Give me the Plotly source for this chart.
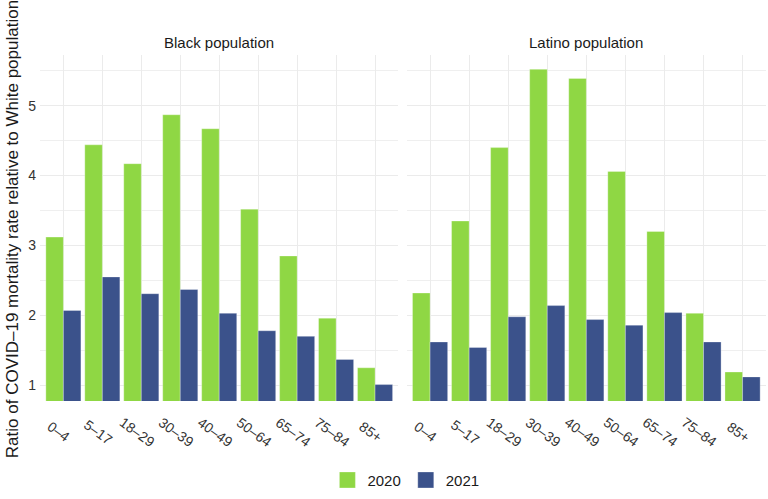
import plotly.graph_objects as go

age_groups = ["0–4", "5–17", "18–29", "30–39", "40–49", "50–64", "65–74", "75–84", "85+"]
black_2020 = [3.12, 4.44, 4.17, 4.87, 4.67, 3.52, 2.85, 1.96, 1.25]
black_2021 = [2.07, 2.55, 2.31, 2.37, 2.03, 1.78, 1.70, 1.37, 1.01]
latino_2020 = [2.32, 3.35, 4.40, 5.52, 5.39, 4.06, 3.20, 2.03, 1.19]
latino_2021 = [1.62, 1.54, 1.98, 2.14, 1.94, 1.86, 2.04, 1.62, 1.12]
panel_titles = ["Black population", "Latino population"]
years = ["2020", "2021"]
y_ticks = [1, 2, 3, 4, 5]

colors = {"2020": "#8fd744", "2021": "#3b528b"}
FONT = "Liberation Sans, Arial, Helvetica, sans-serif"
EDGE = "rgba(255,255,255,0.6)"

fig = go.Figure()
panels = [("x", "y", black_2020, black_2021), ("x2", "y2", latino_2020, latino_2021)]
for xa, ya, v20, v21 in panels:
    for yr, vals in zip(years, [v20, v21]):
        fig.add_trace(go.Bar(
            x=age_groups, y=vals, name=yr, xaxis=xa, yaxis=ya,
            marker=dict(color=colors[yr], line=dict(color=EDGE, width=0.5)),
            showlegend=False, legendgroup=yr,
        ))

# legend keys (larger squares, like the reference)
for yr in years:
    fig.add_trace(go.Scatter(
        x=[None], y=[None], name=yr, mode="markers", legendgroup=yr,
        marker=dict(symbol="square", size=16, color=colors[yr], line=dict(color=EDGE, width=0.5)),
        showlegend=True, xaxis="x", yaxis="y",
    ))

yrange = [0.775, 5.725]
common_x = dict(type="category", range=[-0.6, 8.6], showticklabels=False,
                showgrid=True, gridcolor="#ebebeb", gridwidth=1, zeroline=False,
                showline=False, ticks="", categoryorder="array", categoryarray=age_groups)
common_y = dict(range=yrange, tickvals=y_ticks, showgrid=True, gridcolor="#ebebeb",
                gridwidth=1, zeroline=False, showline=False, ticks="", automargin=False,
                minor=dict(dtick=0.5, tick0=0.5, showgrid=True, gridcolor="#efefef", gridwidth=0.6))

fig.update_layout(
    width=768, height=499,
    margin=dict(l=40, r=2, t=55, b=96),
    paper_bgcolor="white", plot_bgcolor="white",
    barmode="group", bargap=0.1, bargroupgap=0,
    font=dict(family=FONT, size=14, color="#1a1a1a"),
    xaxis=dict(domain=[0, 0.4937], **common_x),
    xaxis2=dict(domain=[0.505, 1], anchor="y2", **common_x),
    yaxis=dict(anchor="x", ticklabelstandoff=3,
               tickfont=dict(family=FONT, size=14, color="#333333"), **common_y),
    yaxis2=dict(anchor="x2", showticklabels=False, **common_y),
    legend=dict(orientation="h", x=0.504, xanchor="center", y=-0.229, yanchor="middle",
                font=dict(family=FONT, size=15, color="#1a1a1a"), itemwidth=30,
                traceorder="normal", itemsizing="trace"),
)

# panel strip titles
for dom, title in zip([(0, 0.4937), (0.505, 1)], panel_titles):
    fig.add_annotation(text=title, xref="paper", yref="paper",
                       x=(dom[0] + dom[1]) / 2, y=1, yshift=13,
                       xanchor="center", yanchor="middle", showarrow=False,
                       font=dict(family=FONT, size=15, color="#1a1a1a"))

# rotated category labels
for xa in ["x", "x2"]:
    for cat in age_groups:
        fig.add_annotation(text=cat, xref=xa, yref="paper", x=cat, y=-0.0796,
                           xshift=-4, yshift=-3, xanchor="center", yanchor="middle",
                           textangle=36, showarrow=False,
                           font=dict(family=FONT, size=14, color="#333333"))

# y-axis title
fig.add_annotation(text="Ratio of COVID–19 mortality rate relative to White population",
                   xref="paper", yref="paper", x=-0.0386, y=0.4966,
                   xanchor="center", yanchor="middle", textangle=-90, showarrow=False,
                   font=dict(family=FONT, size=17, color="#1a1a1a"))

fig.write_html("out.html", config={"displayModeBar": False},
               post_script="document.body.style.margin='0';")
